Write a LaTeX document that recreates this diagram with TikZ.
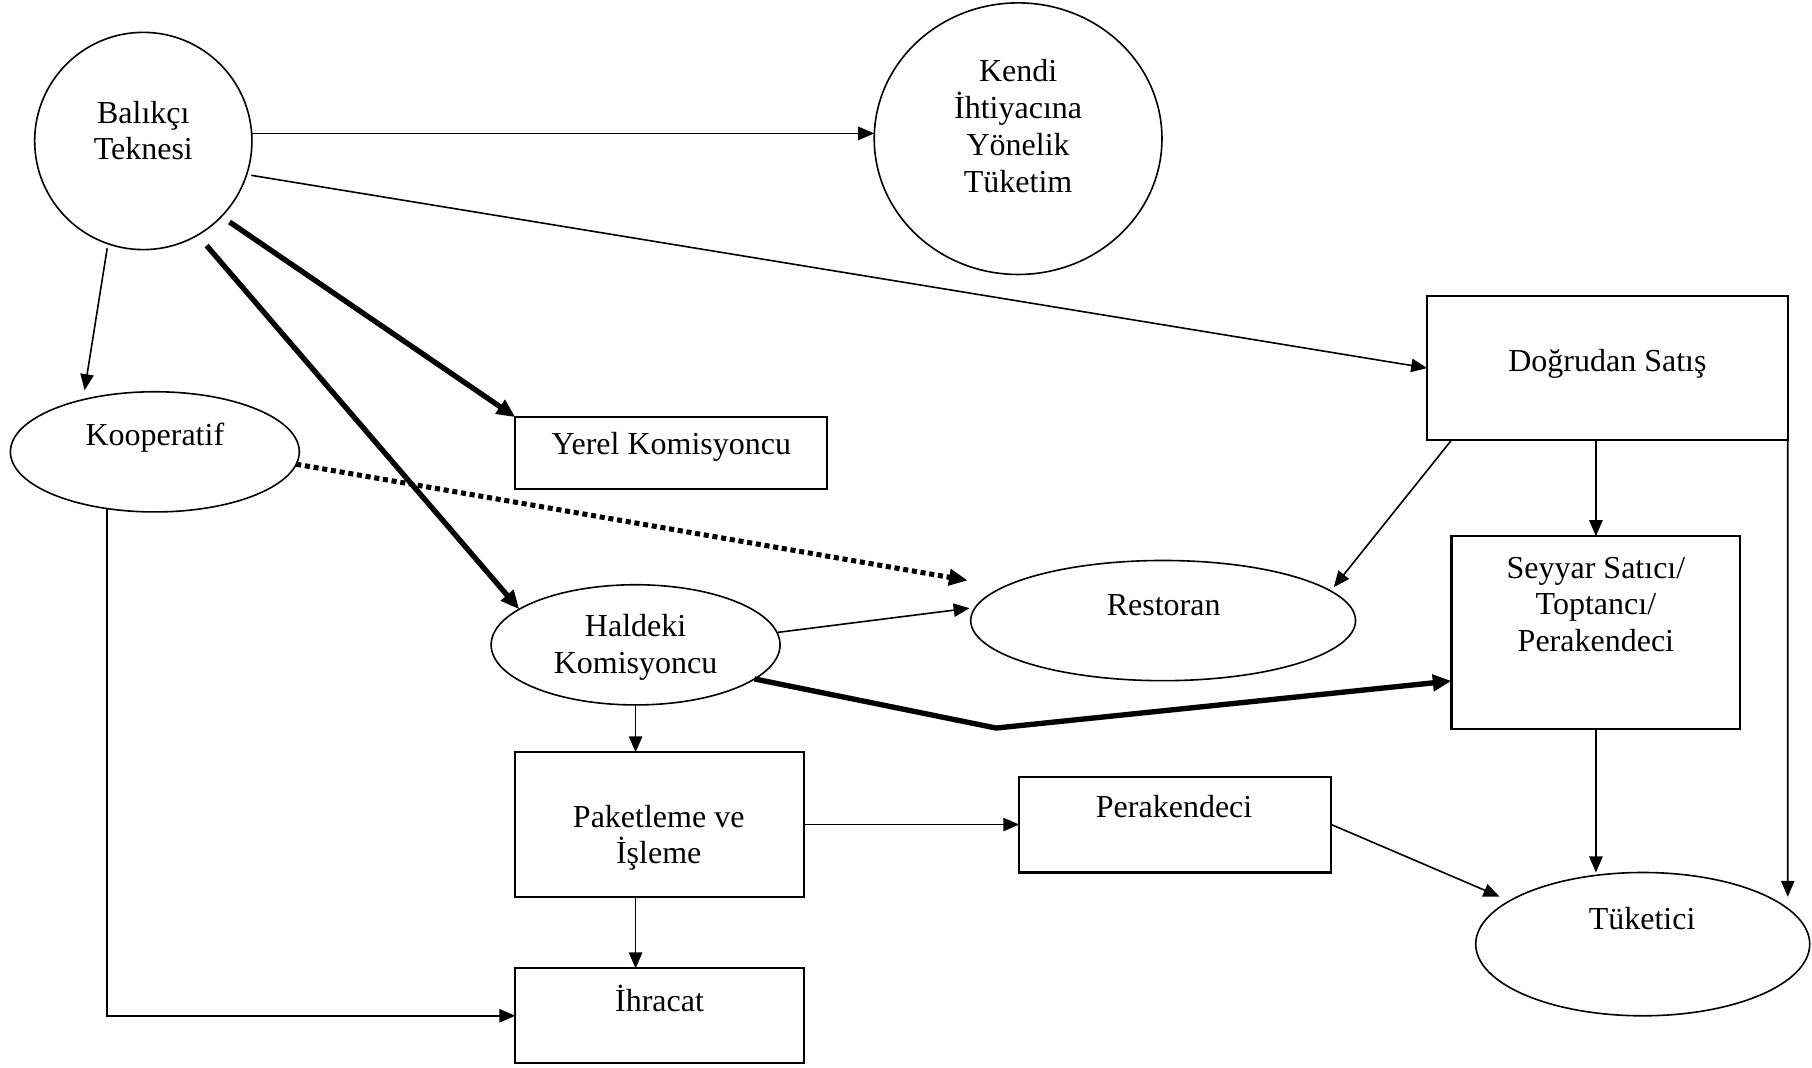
\documentclass[tikz,border=0pt]{standalone}
\usepackage{fontspec}
\setmainfont{Liberation Serif}
\usetikzlibrary{shapes.geometric,arrows.meta,calc}
\begin{document}
\begin{tikzpicture}[x=0.43335pt,y=-0.43335pt,
  shp/.style={draw,inner sep=0pt,outer sep=0pt},
  ell/.style={shp,ellipse,line width=0.6pt},
  box/.style={shp,rectangle,line width=0.8pt},
  txt/.style={font=\fontsize{12}{13.8}\selectfont,align=center,inner sep=0pt},
  arr/.style={line width=0.6pt,-{Triangle[length=6pt,width=5pt]}},
  bold/.style={line width=2pt,line join=bevel,-{Triangle[length=7pt,width=6pt]}},
  dotline/.style={line width=1.9pt,dash pattern=on 1.9pt off 1.4pt,-{Triangle[length=7pt,width=6pt]}}
]
\useasboundingbox (0,0) rectangle (1568,924);

% shapes
\node[ell,minimum width=81.47pt,minimum height=81.47pt] (balik) at (124,122) {};
\node[ell,minimum width=107.90pt,minimum height=101.84pt] (kendi) at (881,120) {};
\node[ell,minimum width=108.34pt,minimum height=45.07pt] (koop) at (134,391) {};
\node[box,minimum width=117.00pt,minimum height=26.87pt] (yerel) at (581,392) {};
\node[box,minimum width=135.21pt,minimum height=54.17pt] (dog) at (1391,318.5) {};
\node[box,minimum width=108.34pt,minimum height=72.37pt] (seyyar) at (1381,547.5) {};
\node[ell,minimum width=144.31pt,minimum height=45.07pt] (rest) at (1006.5,537) {};
\node[ell,minimum width=108.34pt,minimum height=45.07pt] (hal) at (550,558) {};
\node[box,minimum width=108.12pt,minimum height=54.17pt] (pak) at (570.75,713.5) {};
\node[box,minimum width=117.00pt,minimum height=35.97pt] (per) at (1017,713.5) {};
\node[ell,minimum width=125.24pt,minimum height=53.74pt] (tuk) at (1421.5,817) {};
\node[box,minimum width=108.12pt,minimum height=35.53pt] (ihr) at (570.75,879) {};

% texts
\node[txt] (balikT) at (124,113) {Balıkçı\\Teknesi};
\node[txt] (kendiT) at (881,109) {Kendi\\İhtiyacına\\Yönelik\\Tüketim};
\node[txt] (koopT) at (134,379) {Kooperatif};
\node[txt] (yerelT) at (581,387) {Yerel Komisyoncu};
\node[txt] (dogT) at (1391,315) {Doğrudan Satış};
\node[txt] (seyyarT) at (1381,523) {Seyyar Satıcı/\\Toptancı/\\Perakendeci};
\node[txt] (restT) at (1007,524) {Restoran};
\node[txt] (halT) at (550,560) {Haldeki\\Komisyoncu};
\node[txt] (pakT) at (570,725) {Paketleme ve\\İşleme};
\node[txt] (perT) at (1016,698) {Perakendeci};
\node[txt] (tukT) at (1421,795) {Tüketici};
\node[txt] (ihrT) at (570.75,864) {İhracat};

% connectors
\draw[arr] (balik.4.27) -- (balik.4.27 -| kendi.west);
\draw[arr,shorten <=1.73pt] (balik.-18.06) -- (dog.west);
\draw[arr,shorten <=1.73pt,shorten >=3.6pt] (balik.-109.06) -- (koop.144.75);
\draw[bold,shorten <=3.68pt] (balik.-44.6) -- (yerel.north west);
\draw[bold,shorten <=5.2pt] (balik.-60.7) -- (hal.163.2);
\draw[dotline,shorten >=13.87pt] (koop.-5.07) -- (rest.168.07);
\draw[arr] (koop.-130.6) |- (ihr.west);
\draw[arr,shorten >=2.17pt] (hal.5.05) -- (rest.176.16);
\coordinate (bend) at (862,630);
\draw[bold] (hal.-16.64) -- (bend) -- ($(seyyar.north west)!0.75!(seyyar.south west)$);
\draw[arr] (hal.south) -- (hal.south |- pak.north);
\draw[arr] (hal.south |- pak.south) -- (hal.south |- ihr.north);
\draw[arr] (pak.east) -- (per.west);
\draw[arr,shorten >=4.12pt] (per.east) -- (tuk.162.15);
\draw[arr,shorten >=1.86pt] ($(dog.south west)!0.067!(dog.south east)$) -- (rest.10.06);
\draw[arr] (seyyar.north |- dog.south) -- (seyyar.north);
\coordinate (tukin) at ($(tuk.center)+(125.5,-41)$);
\draw[arr] (dog.south east) -- (tukin);
\draw[arr] (seyyar.south) -- (seyyar.south |- tuk.north);
\end{tikzpicture}
\end{document}
